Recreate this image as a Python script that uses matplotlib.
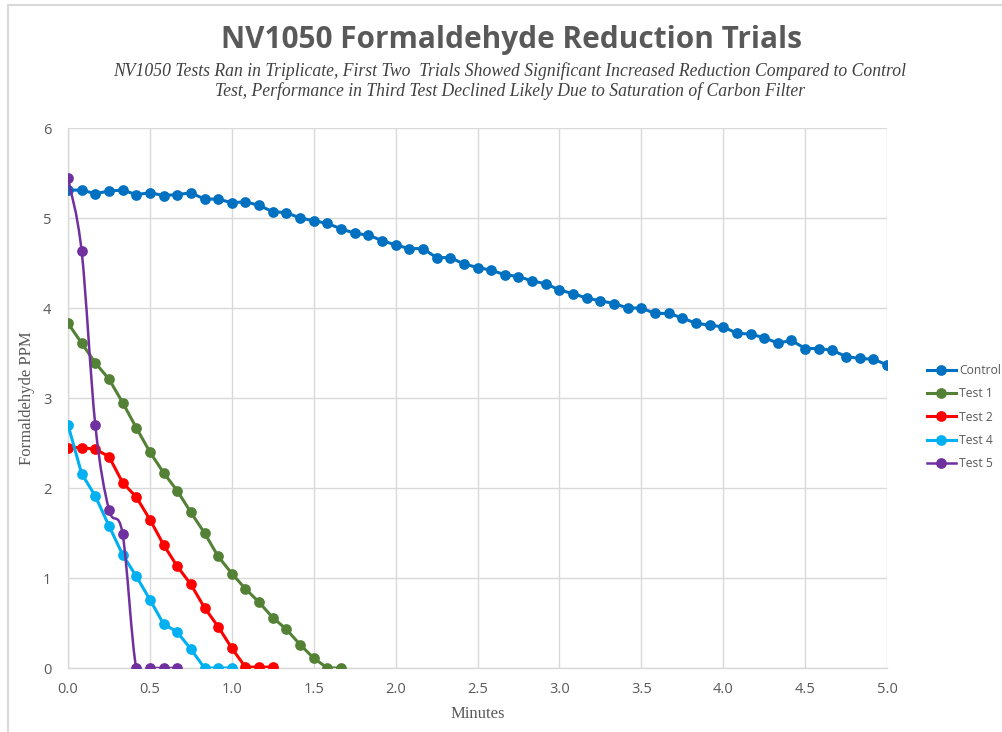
import numpy as np
import matplotlib
matplotlib.use("Agg")
import matplotlib.pyplot as plt
from matplotlib.path import Path
from matplotlib.patches import PathPatch
from matplotlib.lines import Line2D

# ---------------- data ----------------
step = 1 / 12  # readings every 5 seconds
control = [5.31, 5.31, 5.27, 5.30, 5.31, 5.26, 5.28, 5.25, 5.26, 5.28,
           5.21, 5.21, 5.17, 5.18, 5.14, 5.07, 5.06, 5.00, 4.97, 4.94,
           4.88, 4.83, 4.81, 4.75, 4.70, 4.66, 4.66, 4.56, 4.56, 4.49,
           4.45, 4.42, 4.37, 4.35, 4.30, 4.27, 4.20, 4.16, 4.11, 4.08,
           4.05, 4.00, 4.00, 3.94, 3.94, 3.89, 3.83, 3.81, 3.79, 3.72,
           3.71, 3.67, 3.61, 3.64, 3.55, 3.55, 3.53, 3.46, 3.44, 3.43, 3.37]
test1 = [3.83, 3.61, 3.39, 3.21, 2.95, 2.67, 2.40, 2.17, 1.97, 1.73, 1.50,
         1.24, 1.05, 0.88, 0.73, 0.56, 0.43, 0.26, 0.11, 0.0, 0.0]
test2 = [2.45, 2.45, 2.43, 2.35, 2.06, 1.90, 1.65, 1.37, 1.13, 0.93, 0.67,
         0.46, 0.22, 0.01, 0.01, 0.01]
test4 = [2.70, 2.16, 1.91, 1.58, 1.26, 1.02, 0.76, 0.49, 0.40, 0.21, 0.0,
         0.0, 0.0]
test5 = [5.44, 4.63, 2.70, 1.76, 1.49, 0.0, 0.0, 0.0, 0.0]

series_names = ["Control", "Test 1", "Test 2", "Test 4", "Test 5"]
series_values = [control, test1, test2, test4, test5]
series_colors = ["#0070C0", "#538135", "#FF0000", "#00B0F0", "#7030A0"]
smoothed = [False, False, False, False, True]

x_ticks = [0.0, 0.5, 1.0, 1.5, 2.0, 2.5, 3.0, 3.5, 4.0, 4.5, 5.0]
y_ticks = [0, 1, 2, 3, 4, 5, 6]

title = "NV1050 Formaldehyde Reduction Trials"
subtitle = ("NV1050 Tests Ran in Triplicate, First Two  Trials Showed Significant Increased Reduction Compared to Control\n"
            "Test, Performance in Third Test Declined Likely Due to Saturation of Carbon Filter")
x_label = "Minutes"
y_label = "Formaldehyde PPM"

# ---------------- figure ----------------
W, H = 1002, 732
fig = plt.figure(figsize=(W / 100, H / 100), dpi=100)
fig.patch.set_facecolor("white")

# outer chart border (top + left)
border_color = "#d9d9d9"
fig.add_artist(Line2D([8 / W, 1.0], [1 - 5 / H, 1 - 5 / H], color=border_color, lw=1.5,
                      transform=fig.transFigure))
fig.add_artist(Line2D([8 / W, 8 / W], [0, 1 - 5 / H], color=border_color, lw=1.5,
                      transform=fig.transFigure))

ax = fig.add_axes([68 / W, 1 - 668 / H, (887 - 68) / W, (668 - 128) / H])
ax.set_xlim(0, 5)
ax.set_ylim(0, 6)
ax.set_xticks(x_ticks)
ax.set_xticklabels([f"{v:.1f}" for v in x_ticks])
ax.set_yticks(y_ticks)
ax.set_yticklabels([str(v) for v in y_ticks])
ax.grid(True, color="#d9d9d9", lw=1.0)
ax.set_axisbelow(True)
for s in ["top", "right"]:
    ax.spines[s].set_visible(False)
for s in ["left", "bottom"]:
    ax.spines[s].set_color("#d9d9d9")
    ax.spines[s].set_linewidth(1.0)
ax.tick_params(length=0, colors="#595959", labelsize=10.5, pad=10)
for lab in ax.get_xticklabels() + ax.get_yticklabels():
    lab.set_fontfamily("Open Sans")
    lab.set_color("#595959")
ax.tick_params(axis="y", pad=12)

handles = []
for name, vals, col, smooth in zip(series_names, series_values, series_colors, smoothed):
    xs = np.arange(len(vals)) * step
    ys = np.array(vals, dtype=float)
    lw = 2.2
    ms = 6.7
    if smooth:
        lw = 1.8
        # Bezier smoothing (Catmull-Rom style) drawn by matplotlib's Path
        pts = np.column_stack([xs, ys])
        verts = [tuple(pts[0])]
        codes = [Path.MOVETO]
        n = len(pts)
        for i in range(n - 1):
            p0 = pts[i - 1] if i > 0 else pts[i]
            p1 = pts[i]
            p2 = pts[i + 1]
            p3 = pts[i + 2] if i + 2 < n else pts[i + 1]
            c1 = p1 + (p2 - p0) / 6.0
            c2 = p2 - (p3 - p1) / 6.0
            verts += [tuple(c1), tuple(c2), tuple(p2)]
            codes += [Path.CURVE4, Path.CURVE4, Path.CURVE4]
        patch = PathPatch(Path(verts, codes), facecolor="none", edgecolor=col, lw=lw,
                          zorder=3, capstyle="round", joinstyle="round")
        ax.add_patch(patch)
        ax.plot(xs, ys, linestyle="none", marker="o", ms=ms, color=col, zorder=4)
    else:
        ax.plot(xs, ys, color=col, lw=lw, marker="o", ms=ms, zorder=3,
                solid_joinstyle="round")
    handles.append(Line2D([], [], color=col, lw=lw, marker="o", ms=ms))

# axis titles
fig.text(27 / W, 1 - 398 / H, y_label, rotation=90, ha="center", va="center",
         fontsize=12, family="Liberation Serif", color="#595959")
fig.text(478 / W, 1 - 714 / H, x_label, ha="center", va="center",
         fontsize=12, family="Liberation Serif", color="#595959")

# titles
fig.text(511 / W, 1 - 40 / H, title, ha="center", va="center", fontsize=21.4,
         family="Open Sans", weight="bold", color="#595959")
fig.text(510 / W, 1 - 81 / H, subtitle, ha="center", va="center", fontsize=12.7,
         family="Liberation Serif", style="italic", color="#404040",
         linespacing=1.12)

# legend
leg = fig.legend(handles, series_names, loc="upper left",
                 bbox_to_anchor=(922 / W, 1 - 359 / H), frameon=False,
                 prop={"family": "Open Sans", "size": 8.7}, labelcolor="#595959",
                 handlelength=2.4, handletextpad=0.25, labelspacing=0.86,
                 borderaxespad=0)

fig.savefig("out.png", dpi=100, facecolor="white")
